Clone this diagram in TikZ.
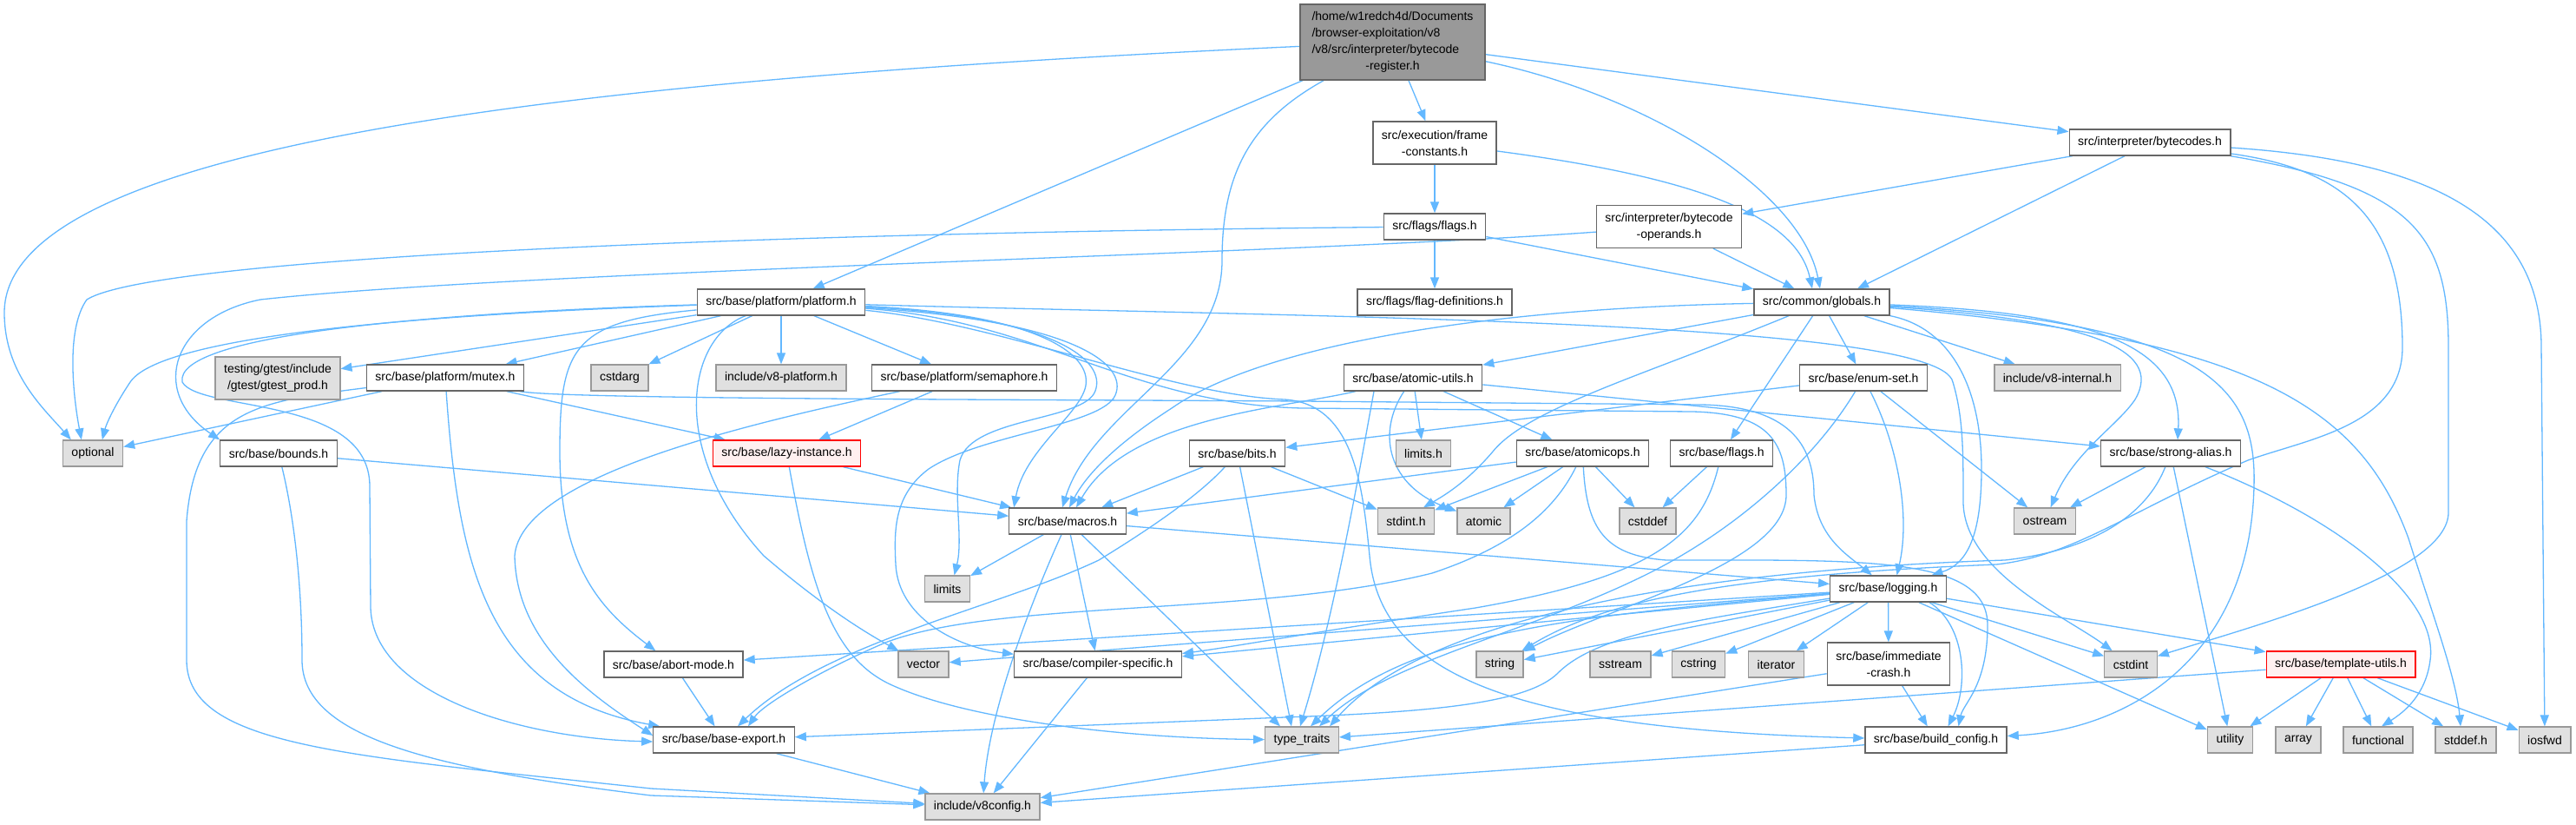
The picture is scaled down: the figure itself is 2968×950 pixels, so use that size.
\documentclass[tikz,border=0pt]{standalone}
\usepackage{fontspec}
\setmainfont{Liberation Sans}
\usetikzlibrary{arrows.meta}
\definecolor{edgec}{HTML}{63B8FF}
\definecolor{bordc}{HTML}{666666}
\definecolor{greyf}{HTML}{E0E0E0}
\definecolor{greyb}{HTML}{999999}
\definecolor{rootf}{HTML}{999999}
\definecolor{redf}{HTML}{FFF0F0}
\definecolor{redb}{HTML}{FF0000}
\pgfdeclarelayer{bglayer}
\pgfdeclarelayer{edgelayer}
\pgfsetlayers{bglayer,edgelayer,main}
\begin{document}
\begin{tikzpicture}[x=1pt,y=-1pt,
  box/.style={draw=bordc, fill=white, line width=1.3pt, inner xsep=10pt, inner ysep=0pt,
    minimum height=30pt, align=center, font=\fontsize{14}{19}\selectfont},
  gbox/.style={box, draw=greyb, fill=greyf},
  rbox/.style={box, draw=redb, fill=redf},
  tall/.style={minimum height=49pt},
  e/.style={draw=edgec, line width=1.3pt, -{Triangle[length=13pt,width=10pt]}}]
\begin{pgfonlayer}{bglayer}
\fill[white] (0,0) rectangle (2968,950);
\end{pgfonlayer}
\useasboundingbox (0,0) rectangle (2968,950);

% ---------------- nodes ----------------
\node[box, fill=rootf, minimum height=87pt, minimum width=213pt] (root) at (1604.5,48.5)
  {\begin{tabular}{@{}l@{}}/home/w1redch4d/Documents\\/browser-exploitation/v8\\/v8/src/interpreter/bytecode\\\multicolumn{1}{@{}c@{}}{-register.h}\end{tabular}};
\node[box, tall] (frameconst) at (1653,164.5) {src/execution/frame\\-constants.h};
\node[box] (flags) at (1653,261) {src/flags/flags.h};
\node[box, tall] (operands) at (1923,261) {src/interpreter/bytecode\\-operands.h};
\node[box] (bytecodes) at (2477,164) {src/interpreter/bytecodes.h};
\node[box] (platform) at (900,348) {src/base/platform/platform.h};
\node[box] (flagdefs) at (1653,348) {src/flags/flag-definitions.h};
\node[box] (globals) at (2099,348) {src/common/globals.h};
\node[gbox, tall] (gtest) at (320,435.5) {testing/gtest/include\\/gtest/gtest\_prod.h};
\node[box] (mutex) at (513,435) {src/base/platform/mutex.h};
\node[gbox] (cstdarg) at (714,435) {cstdarg};
\node[gbox] (v8platform) at (900,435) {include/v8-platform.h};
\node[box] (semaphore) at (1111,435) {src/base/platform/semaphore.h};
\node[box] (atomicutils) at (1628,435) {src/base/atomic-utils.h};
\node[box] (enumset) at (2147,435) {src/base/enum-set.h};
\node[gbox] (v8internal) at (2370.5,435) {include/v8-internal.h};
\node[gbox] (optional) at (107,522) {optional};
\node[box] (bounds) at (321,522) {src/base/bounds.h};
\node[rbox] (lazy) at (906.5,522) {src/base/lazy-instance.h};
\node[box] (bits) at (1425.5,522) {src/base/bits.h};
\node[gbox] (limitsh) at (1640,522) {limits.h};
\node[box] (atomicops) at (1823.5,522) {src/base/atomicops.h};
\node[box] (baseflags) at (1983.5,522) {src/base/flags.h};
\node[box] (strongalias) at (2501,522) {src/base/strong-alias.h};
\node[box] (macros) at (1230,600) {src/base/macros.h};
\node[gbox] (stdinth) at (1620,600) {stdint.h};
\node[gbox] (atomic) at (1709.5,600) {atomic};
\node[gbox] (cstddef) at (1898.5,600) {cstddef};
\node[gbox] (ostream) at (2356,600) {ostream};
\node[gbox] (limits) at (1091.5,678) {limits};
\node[box] (logging) at (2175.5,678) {src/base/logging.h};
\node[box] (abortmode) at (776,765) {src/base/abort-mode.h};
\node[gbox] (vector) at (1064,765) {vector};
\node[box] (compilerspecific) at (1265,765) {src/base/compiler-specific.h};
\node[gbox] (string) at (1728,765) {string};
\node[gbox] (sstream) at (1867,765) {sstream};
\node[gbox] (cstring) at (1957,765) {cstring};
\node[gbox] (iterator) at (2046.5,765) {iterator};
\node[box, tall] (immediate) at (2176,764.5) {src/base/immediate\\-crash.h};
\node[gbox] (cstdint) at (2455,765) {cstdint};
\node[rbox] (templateutils) at (2697,765) {src/base/template-utils.h};
\node[box] (baseexport) at (834,852) {src/base/base-export.h};
\node[gbox] (typetraits) at (1500,852) {type\_traits};
\node[box] (buildconfig) at (2230.5,852) {src/base/build\_config.h};
\node[gbox] (utility) at (2569.5,852) {utility};
\node[gbox] (array) at (2648,852) {array};
\node[gbox] (functional) at (2740,852) {functional};
\node[gbox] (stddefh) at (2841,852) {stddef.h};
\node[gbox] (iosfwd) at (2932,852) {iosfwd};
\node[gbox] (v8config) at (1132,929) {include/v8config.h};

% ---------------- edges ----------------
\begin{pgfonlayer}{edgelayer}
% root
\draw[e] (root) .. controls (700,90) and (5,160) .. (5,360) .. controls (5,430) and (50,470) .. ([xshift=10pt]optional.north west);
\draw[e] (root) -- (platform);
\draw[e] (root) .. controls (1440,140) and (1408,200) .. (1408,300) .. controls (1408,420) and (1260,470) .. ([xshift=-6pt]macros.north);
\draw[e] (root) -- (frameconst);
\draw[e] (root) .. controls (1900,110) and (2075,220) .. ([xshift=-2pt]globals.north);
\draw[e] (root) -- (bytecodes);
% frame constants / flags
\draw[e] (frameconst) -- (flags);
\draw[e] (frameconst) .. controls (1960,205) and (2070,250) .. ([xshift=-11pt]globals.north);
\draw[e] (flags) .. controls (900,268) and (180,295) .. (100,345) .. controls (75,380) and (85,460) .. ([xshift=22pt]optional.north west);
\draw[e] (flags) -- (flagdefs);
\draw[e] (flags) -- (globals);
% bytecodes
\draw[e] (bytecodes) -- (operands);
\draw[e] ([xshift=-29pt]bytecodes.south) -- ([xshift=41pt]globals.north);
\draw[e] (bytecodes) .. controls (2700,195) and (2768,250) .. (2768,400) .. controls (2768,490) and (2660,505) .. (2590,530) .. controls (2450,590) and (2390,640) .. (2300,650) .. controls (2000,662) and (1850,690) .. (string);
\draw[e] (bytecodes) .. controls (2780,215) and (2821,270) .. (2821,400) -- (2821,590) .. controls (2821,660) and (2600,720) .. (cstdint);
\draw[e] (bytecodes) .. controls (2800,185) and (2928,250) .. (2928,400) -- (iosfwd);
% operands
\draw[e] (operands) .. controls (1500,292) and (600,312) .. (300,345) .. controls (200,365) and (170,450) .. (bounds.north west);
\draw[e] (operands) -- (globals);
% platform
\draw[e] (platform) .. controls (400,365) and (180,395) .. (150,440) .. controls (130,470) and (122,490) .. ([xshift=46pt]optional.north west);
\draw[e] (platform) -- (gtest);
\draw[e] (platform) -- (mutex);
\draw[e] (platform) -- (cstdarg);
\draw[e] (platform) -- (v8platform);
\draw[e] (platform) -- (semaphore);
\draw[e] (platform) .. controls (790,390) and (770,520) .. (880,640) .. controls (950,700) and (1000,730) .. (vector);
\draw[e] (platform) .. controls (660,370) and (645,400) .. (645,520) .. controls (645,650) and (690,700) .. (abortmode);
\draw[e] (platform) .. controls (500,360) and (200,385) .. (210,440) .. controls (230,475) and (426,455) .. (426,560) -- (427,700) .. controls (430,800) and (600,850) .. ([yshift=-2pt]baseexport.west);
\draw[e] (platform) .. controls (1200,362) and (1262,410) .. (1250,448) .. controls (1240,480) and (1180,520) .. ([xshift=6pt]macros.north west);
\draw[e] (platform) .. controls (1215,365) and (1275,415) .. (1262,450) .. controls (1250,485) and (1120,480) .. (1106,530) .. controls (1098,570) and (1110,620) .. ([xshift=8pt]limits.north);
\draw[e] (platform) .. controls (1240,370) and (1300,420) .. (1285,455) .. controls (1270,490) and (1130,500) .. (1070,540) .. controls (1030,570) and (1030,610) .. (1032,650) .. controls (1035,710) and (1100,745) .. (compilerspecific);
\draw[e] (platform) .. controls (1150,372) and (1350,455) .. (1480,460) .. controls (1560,465) and (1570,560) .. (1578,640) .. controls (1590,780) and (1750,840) .. (buildconfig);
\draw[e] (platform) .. controls (1500,365) and (2235,368) .. (2250,440) .. controls (2262,480) and (2262,520) .. (2262,580) .. controls (2265,660) and (2380,710) .. (cstdint);
\draw[e] (platform) .. controls (1200,370) and (1300,465) .. (1500,470) -- (1950,474) .. controls (2040,476) and (2058,510) .. (2058,570) .. controls (2058,650) and (1850,700) .. (string);
% globals
\draw[e] (globals) .. controls (1700,355) and (1450,400) .. (1350,470) .. controls (1280,515) and (1250,550) .. ([xshift=2pt]macros.north);
\draw[e] (globals) -- (atomicutils);
\draw[e] (globals) .. controls (1900,430) and (1760,470) .. (1720,520) .. controls (1690,555) and (1665,570) .. ([xshift=20pt]stdinth.north);
\draw[e] (globals) -- (baseflags);
\draw[e] (globals) -- (enumset);
\draw[e] (globals) -- (v8internal);
\draw[e] (globals) .. controls (2400,368) and (2495,400) .. (2460,460) .. controls (2440,490) and (2390,520) .. (ostream);
\draw[e] (globals) .. controls (2420,360) and (2515,400) .. ([xshift=8pt]strongalias.north);
\draw[e] (globals) .. controls (2250,378) and (2283,450) .. (2283,540) .. controls (2283,620) and (2265,650) .. (logging);
\draw[e] (globals) .. controls (2550,372) and (2600,450) .. (2597,560) .. controls (2592,760) and (2450,840) .. (buildconfig);
\draw[e] (globals) .. controls (2600,390) and (2720,470) .. (2775,620) .. controls (2800,700) and (2830,780) .. ([xshift=-6pt]stddefh.north);
% atomic-utils
\draw[e] (atomicutils) .. controls (1480,470) and (1300,480) .. ([xshift=10pt]macros.north);
\draw[e] (atomicutils) -- (limitsh);
\draw[e] (atomicutils) .. controls (1585,500) and (1600,560) .. (atomic);
\draw[e] (atomicutils) -- (atomicops);
\draw[e] (atomicutils) -- (strongalias);
\draw[e] ([xshift=-45pt]atomicutils.south) .. controls (1570,520) and (1540,700) .. ([xshift=-2pt]typetraits.north);
% enum-set
\draw[e] (enumset) -- (bits);
\draw[e] (enumset) -- (ostream);
\draw[e] (enumset) .. controls (2190,520) and (2200,600) .. ([xshift=10pt]logging.north);
\draw[e] (enumset) .. controls (2090,530) and (2000,610) .. (1900,660) .. controls (1760,730) and (1600,760) .. ([xshift=20pt]typetraits.north);
% mutex
\draw[e] (mutex) -- (optional);
\draw[e] (mutex) -- (lazy);
\draw[e] (mutex) .. controls (650,460) and (1200,460) .. (1500,462) -- (1960,466) .. controls (2070,468) and (2090,520) .. (2090,570) .. controls (2095,620) and (2130,640) .. (logging);
\draw[e] (mutex) .. controls (528,650) and (560,800) .. ([xshift=8pt]baseexport.north west);
\draw[e] (mutex) .. controls (300,462) and (225,470) .. (215,600) -- (215,760) .. controls (215,860) and (400,870) .. (750,908) -- (v8config);
% semaphore
\draw[e] (semaphore) -- (lazy);
\draw[e] (semaphore) .. controls (850,490) and (600,550) .. (593,640) .. controls (595,740) and (680,800) .. ([yshift=5pt]baseexport.west);
% bounds
\draw[e] (bounds) -- (macros);
\draw[e] (bounds) .. controls (340,600) and (348,680) .. (348,760) .. controls (348,850) and (500,885) .. (750,916) -- (v8config);
% lazy-instance
\draw[e] (lazy) -- (macros);
\draw[e] (lazy) .. controls (935,680) and (960,760) .. (1030,790) .. controls (1120,830) and (1300,850) .. (typetraits);
% bits
\draw[e] (bits) -- (macros);
\draw[e] (bits) -- (stdinth);
\draw[e] (bits) -- ([xshift=-12pt]typetraits.north);
\draw[e] (bits) .. controls (1380,572) and (1320,612) .. (1266,645) .. controls (1150,700) and (950,740) .. ([xshift=16pt]baseexport.north);
% atomicops
\draw[e] (atomicops) -- (macros);
\draw[e] (atomicops) -- (stdinth);
\draw[e] (atomicops) -- (atomic);
\draw[e] (atomicops) -- (cstddef);
\draw[e] (atomicops) .. controls (1790,590) and (1740,630) .. (1650,660) .. controls (1450,710) and (1150,690) .. (1020,740) .. controls (950,770) and (880,810) .. ([xshift=28pt]baseexport.north);
\draw[e] (atomicops) .. controls (1828,610) and (1850,640) .. (1920,645) .. controls (2150,645) and (2290,640) .. (2290,720) .. controls (2290,790) and (2262,810) .. ([xshift=26pt]buildconfig.north);
% base flags
\draw[e] (baseflags) -- (cstddef);
\draw[e] (baseflags) .. controls (1960,620) and (1900,665) .. (1700,700) .. controls (1500,730) and (1420,745) .. (compilerspecific);
% strong-alias
\draw[e] (strongalias) -- (ostream);
\draw[e] (strongalias) -- (utility);
\draw[e] (strongalias) .. controls (2700,600) and (2810,690) .. (2800,760) .. controls (2795,800) and (2770,820) .. ([xshift=4pt]functional.north);
\draw[e] (strongalias) .. controls (2470,600) and (2400,635) .. (2310,645) .. controls (2000,655) and (1650,700) .. ([xshift=32pt]typetraits.north);
% macros
\draw[e] (macros) -- (limits);
\draw[e] (macros) .. controls (1185,700) and (1140,820) .. (v8config);
\draw[e] (macros) -- (compilerspecific);
\draw[e] (macros) -- ([xshift=-25pt]typetraits.north);
\draw[e] (macros) -- (logging);
% logging
\draw[e] (logging) -- (abortmode);
\draw[e] (logging) -- (vector);
\draw[e] (logging) -- (compilerspecific);
\draw[e] (logging) .. controls (1950,715) and (1840,730) .. (1795,775) .. controls (1760,810) and (1650,820) .. (1480,826) -- (baseexport);
\draw[e] (logging) -- (string);
\draw[e] (logging) -- (sstream);
\draw[e] (logging) -- (cstring);
\draw[e] (logging) -- (iterator);
\draw[e] (logging) -- (immediate);
\draw[e] (logging) .. controls (1800,710) and (1620,730) .. ([xshift=10pt]typetraits.north);
\draw[e] ([xshift=-20pt]logging.south east) .. controls (2265,720) and (2268,790) .. ([xshift=14pt]buildconfig.north);
\draw[e] (logging) -- (cstdint);
\draw[e] (logging) -- (utility);
\draw[e] (logging) -- (templateutils);
% immediate-crash
\draw[e] (immediate) -- (buildconfig);
\draw[e] (immediate) -- (v8config);
% template-utils
\draw[e] (templateutils) -- (typetraits);
\draw[e] (templateutils) -- (utility);
\draw[e] (templateutils) -- (array);
\draw[e] (templateutils) -- (functional);
\draw[e] (templateutils) -- (stddefh);
\draw[e] (templateutils) -- (iosfwd);
% leaves
\draw[e] (abortmode) -- (baseexport);
\draw[e] (compilerspecific) -- (v8config);
\draw[e] (baseexport) -- (v8config);
\draw[e] (buildconfig) -- (v8config);
\end{pgfonlayer}
\end{tikzpicture}
\end{document}
